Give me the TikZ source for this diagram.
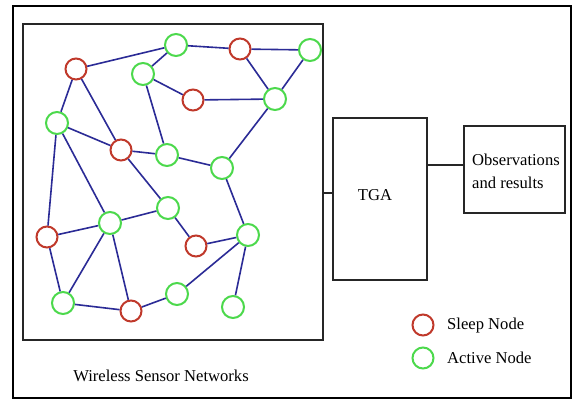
\documentclass[tikz,border=0pt]{standalone}
\usepackage{fontspec}
\setmainfont{Liberation Serif}
\begin{document}
\begin{tikzpicture}[x=1pt,y=-1pt,
  frame/.style={draw=black,line width=2.2pt},
  box/.style={draw=black!85,line width=1.8pt},
  link/.style={draw=linkblue,line width=1.6pt},
  sleep/.style={circle,draw=sleepred,line width=2pt,fill=white,minimum size=21pt,inner sep=0pt},
  active/.style={circle,draw=activegreen,line width=2pt,fill=white,minimum size=22pt,inner sep=0pt},
  lbl/.style={font=\fontsize{16.6}{23}\selectfont,inner sep=0pt}]
\definecolor{linkblue}{HTML}{2B2B96}
\definecolor{sleepred}{HTML}{C0392B}
\definecolor{activegreen}{HTML}{4CD94C}
\useasboundingbox (0,0) rectangle (572,400);
\fill[white] (0,0) rectangle (572,400);

% outer frame and network area
\draw[frame] (13,6) rectangle (571,398);
\draw[box,line width=2pt] (23,24) rectangle (323,340);
\coordinate (wsnR) at (323,193);

% processing blocks
\node[box,minimum width=94pt,minimum height=162pt,inner sep=0pt] (tga) at (380,199) {};
\node[lbl] at (375,195) {TGA};
\node[box,minimum width=101pt,minimum height=87pt,inner sep=0pt] (obs) at (514.5,169.5) {};
\node[lbl,align=left,anchor=west] at (472,171) {Observations\\and results};
\draw[box] (wsnR) -- (wsnR -| tga.west);
\draw[box] (tga.east |- 0,165) -- (obs.west |- 0,165);

% sensor nodes
\node[sleep]  (A) at (76,69) {};
\node[active] (B) at (176,45) {};
\node[sleep]  (C) at (240,49) {};
\node[active] (D) at (310,50) {};
\node[active] (E) at (143,74) {};
\node[sleep]  (F) at (193,100) {};
\node[active] (G) at (275,99) {};
\node[active] (H) at (57,123) {};
\node[sleep]  (I) at (121,150) {};
\node[active] (J) at (167,155) {};
\node[active] (K) at (222,168) {};
\node[active] (L) at (168,208) {};
\node[active] (M) at (110,223) {};
\node[sleep]  (N) at (47,237) {};
\node[sleep]  (O) at (196,246) {};
\node[active] (P) at (248,235) {};
\node[active] (Q) at (63,303) {};
\node[sleep]  (R) at (131,311) {};
\node[active] (S) at (177,294) {};
\node[active] (T) at (233,307) {};

% radio links between neighbouring sensors
\foreach \u/\v in {A/B,B/E,B/C,C/D,C/G,D/G,E/F,F/G,E/J,A/H,A/I,H/I,I/J,J/K,K/G,
  H/N,H/M,I/L,K/P,N/M,M/L,L/O,O/P,N/Q,M/Q,M/R,Q/R,R/S,S/P,P/T}
  \draw[link] (\u) -- (\v);

\node[lbl] (wsn) at (161,376) {Wireless Sensor Networks};

% legend
\node[sleep,minimum size=21pt] (ls) at (423,325) {};
\node[active,minimum size=21pt] (la) at (423,358) {};
\node[lbl,anchor=west] at (447,325) {Sleep Node};
\node[lbl,anchor=west] at (447,358) {Active Node};
\end{tikzpicture}
\end{document}
